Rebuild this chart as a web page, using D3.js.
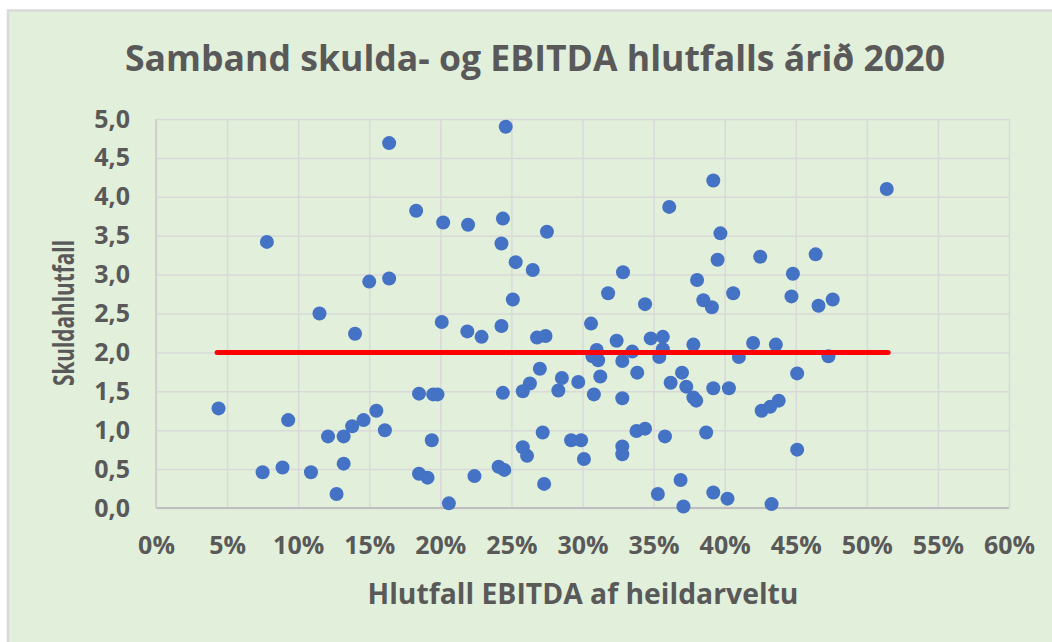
<!DOCTYPE html>
<html>
<head>
<meta charset="utf-8">
<script src="https://cdn.jsdelivr.net/npm/d3@7"></script>
<style>
  body { margin: 0; background: #fff; }
  text { font-family: "Open Sans", "Liberation Sans", sans-serif; fill: #595959; font-weight: bold; }
  .grid line { stroke: #d9d9d9; stroke-width: 1.5; }
  .grid path { display: none; }
  .axis path, .axis line { display: none; }
</style>
</head>
<body>
<script>
// EBITDA / heildarvelta (hlutfall)
const ebitda = [
  0.044, 0.075, 0.078, 0.089, 0.093, 0.109, 0.115, 0.121, 0.127, 0.132,
  0.132, 0.138, 0.140, 0.146, 0.150, 0.155, 0.161, 0.164, 0.164, 0.183,
  0.185, 0.185, 0.191, 0.194, 0.195, 0.198, 0.201, 0.202, 0.206, 0.219,
  0.2195, 0.224, 0.229, 0.241, 0.243, 0.243, 0.244, 0.244, 0.245, 0.246,
  0.251, 0.253, 0.258, 0.258, 0.261, 0.263, 0.265, 0.268, 0.270, 0.272,
  0.273, 0.274, 0.275, 0.283, 0.2855, 0.292, 0.297, 0.299, 0.301, 0.306,
  0.307, 0.308, 0.310, 0.311, 0.3125, 0.318, 0.324, 0.328, 0.328, 0.328,
  0.328, 0.3285, 0.335, 0.338, 0.3385, 0.344, 0.344, 0.348, 0.353, 0.354,
  0.3565, 0.3565, 0.358, 0.361, 0.362, 0.369, 0.370, 0.371, 0.373, 0.378,
  0.378, 0.380, 0.3806, 0.385, 0.387, 0.391, 0.392, 0.392, 0.392, 0.395,
  0.397, 0.402, 0.403, 0.406, 0.410, 0.420, 0.425, 0.426, 0.432, 0.433,
  0.436, 0.438, 0.447, 0.448, 0.451, 0.451, 0.464, 0.466, 0.473, 0.476,
  0.514
];

// skuldahlutfall
const skuld = [
  1.28, 0.46, 3.42, 0.52, 1.13, 0.46, 2.50, 0.92, 0.18, 0.92,
  0.57, 1.05, 2.24, 1.13, 2.91, 1.25, 1.00, 2.95, 4.69, 3.82,
  1.47, 0.44, 0.39, 0.87, 1.46, 1.46, 2.39, 3.67, 0.06, 2.27,
  3.64, 0.41, 2.20, 0.53, 3.40, 2.34, 3.72, 1.48, 0.49, 4.90,
  2.68, 3.16, 1.50, 0.78, 0.67, 1.60, 3.06, 2.19, 1.79, 0.97,
  0.31, 2.21, 3.55, 1.51, 1.67, 0.87, 1.62, 0.87, 0.63, 2.37,
  1.95, 1.46, 2.03, 1.90, 1.69, 2.76, 2.15, 1.89, 1.41, 0.79,
  0.69, 3.03, 2.01, 0.99, 1.74, 2.62, 1.02, 2.18, 0.18, 1.94,
  2.20, 2.04, 0.92, 3.87, 1.61, 0.36, 1.74, 0.02, 1.56, 2.10,
  1.42, 1.38, 2.93, 2.67, 0.97, 2.58, 4.21, 1.54, 0.20, 3.19,
  3.53, 0.12, 1.54, 2.76, 1.94, 2.12, 3.23, 1.25, 1.30, 0.05,
  2.10, 1.38, 2.72, 3.01, 1.73, 0.75, 3.26, 2.60, 1.95, 2.68,
  4.10
];

// viðmiðunarlína við skuldahlutfall 2,0
const refX = [0.043, 0.515];
const refY = [2.0, 2.0];

const xTicks = [0, 0.05, 0.10, 0.15, 0.20, 0.25, 0.30, 0.35, 0.40, 0.45, 0.50, 0.55, 0.60];
const yTicks = [0, 0.5, 1.0, 1.5, 2.0, 2.5, 3.0, 3.5, 4.0, 4.5, 5.0];

const titleText = "Samband skulda- og EBITDA hlutfalls árið 2020",
  xTitleText = "Hlutfall EBITDA af heildarveltu",
  yTitleText = "Skuldahlutfall";

const W = 1052, H = 642;
const margin = { top: 119, right: 43, bottom: 134, left: 156 },
  width = W - margin.left - margin.right,
  height = H - margin.top - margin.bottom;

const svg = d3.select("body")
  .append("svg")
  .attr("width", W)
  .attr("height", H);

// chart background
svg.append("rect")
  .attr("x", 8).attr("y", 10.5)
  .attr("width", W).attr("height", H)
  .attr("fill", "#e2efda")
  .attr("stroke", "#d9d9d9")
  .attr("stroke-width", 2.5);

const g = svg.append("g")
  .attr("transform", "translate(" + margin.left + ", " + margin.top + ")");

const x = d3.scaleLinear().domain([0, 0.6]).range([0, width]);
const y = d3.scaleLinear().domain([0, 5]).range([height, 0]);

// gridlines
g.append("g")
  .attr("class", "grid")
  .attr("transform", "translate(0, " + height + ")")
  .call(d3.axisBottom(x).tickValues(xTicks).tickSize(-height).tickFormat(""));
g.append("g")
  .attr("class", "grid")
  .call(d3.axisLeft(y).tickValues(yTicks).tickSize(-width).tickFormat(""));

// axis lines
g.append("line")
  .attr("x1", 0).attr("x2", width)
  .attr("y1", height).attr("y2", height)
  .attr("stroke", "#bfbfbf").attr("stroke-width", 2);
g.append("line")
  .attr("x1", 0).attr("x2", 0)
  .attr("y1", 0).attr("y2", height)
  .attr("stroke", "#d0d0d0").attr("stroke-width", 2);

// tick labels
const fmtY = d => d3.format(".1f")(d).replace(".", ",");
g.append("g")
  .attr("class", "axis")
  .attr("transform", "translate(0, " + height + ")")
  .call(d3.axisBottom(x).tickValues(xTicks).tickSize(0).tickPadding(28).tickFormat(d3.format(".0%")))
  .selectAll("text")
  .style("font-size", "25px")
  .attr("fill", null);
g.append("g")
  .attr("class", "axis")
  .call(d3.axisLeft(y).tickValues(yTicks).tickSize(0).tickPadding(26).tickFormat(fmtY))
  .selectAll("text")
  .style("font-size", "25px")
  .attr("fill", null);
g.selectAll(".axis").attr("font-family", null).attr("font-size", null);

// scatter points
const points = ebitda.map((v, i) => ({ x: v, y: skuld[i] }));
g.append("g")
  .selectAll("circle")
  .data(points)
  .join("circle")
  .attr("cx", d => x(d.x))
  .attr("cy", d => y(d.y))
  .attr("r", 7)
  .attr("fill", "#4472c4");

// red reference line
g.append("line")
  .attr("x1", x(refX[0])).attr("x2", x(refX[1]))
  .attr("y1", y(refY[0])).attr("y2", y(refY[1]))
  .attr("stroke", "#ff0000")
  .attr("stroke-width", 5)
  .attr("stroke-linecap", "round");

// titles, squeezed to the width of the narrow original font
let fit = (sel, len) => {
  let w = sel.node().getComputedTextLength();
  if (w > len) sel.attr("textLength", len).attr("lengthAdjust", "spacingAndGlyphs");
};

fit(svg.append("text")
  .attr("x", 535).attr("y", 71)
  .attr("text-anchor", "middle")
  .style("font-size", "36px")
  .text(titleText), 820);

fit(svg.append("text")
  .attr("x", 583).attr("y", 604)
  .attr("text-anchor", "middle")
  .style("font-size", "29px")
  .text(xTitleText), 431);

fit(svg.append("text")
  .attr("transform", "translate(74, 313) rotate(-90)")
  .attr("text-anchor", "middle")
  .style("font-size", "29px")
  .text(yTitleText), 146);
</script>
</body>
</html>
